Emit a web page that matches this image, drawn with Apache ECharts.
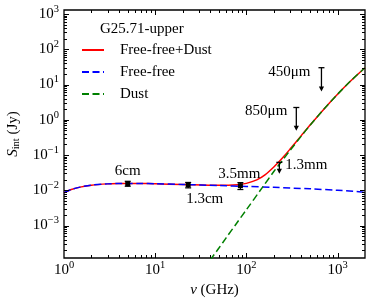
<!DOCTYPE html>
<html><head><meta charset="utf-8">
<script src="https://cdn.jsdelivr.net/npm/echarts@6/dist/echarts.min.js"></script>
<style>html,body{margin:0;padding:0;background:#fff}#c{width:374px;height:306px}</style>
</head><body><div id="c"></div>
<script>
// ---- data ----
const ffFreq = [1, 1.2, 1.5, 2, 3, 4, 5, 7, 10, 20, 50, 100, 200, 500, 1000, 2000];
const ffFlux = [0.0085, 0.0105, 0.0123, 0.0140, 0.0152, 0.0156, 0.0157, 0.0156, 0.0153, 0.0146, 0.0136, 0.0129, 0.0121, 0.0110, 0.0100, 0.0088];
const dustFreq = [40, 50, 60, 80, 100, 150, 200, 250, 300, 400, 500, 700, 1000, 1400, 2000];
const dustFlux = [1.04e-4, 2.3e-4, 4.47e-4, 1.26e-3, 2.8e-3, 0.0121, 0.034, 0.072, 0.133, 0.344, 0.70, 1.93, 5.3, 12.8, 30];
const totFreq = [1, 1.2, 1.5, 2, 3, 4, 5, 7, 10, 20, 50, 80, 100, 130, 160, 200, 250, 300, 400, 500, 700, 1000, 1400, 2000];
const totFlux = [0.0085, 0.0105, 0.0123, 0.0140, 0.0152, 0.0156, 0.0157, 0.0156, 0.0153, 0.0146, 0.0138, 0.0144, 0.0157, 0.0197, 0.0275, 0.046, 0.084, 0.145, 0.355, 0.71, 1.94, 5.3, 12.8, 30];
const obsFreq = [5, 23, 86];
const obsFlux = [0.0155, 0.0142, 0.0135];
const obsErr = [0.0025, 0.0025, 0.003];
const obsName = ['6cm', '1.3cm', '3.5mm'];
const ulFreq = [230, 353, 666];
const ulFlux = [0.062, 2.23, 30];
const ulEnd = [0.0295, 0.49, 6.3];
const ulName = ['1.3mm', '850\u03bcm', '450\u03bcm'];
const seriesNames = ['Free-free+Dust', 'Free-free', 'Dust'];
const legendTitle = 'G25.71-upper';
const xRange = [1, 2000];
const yRange = [1.2e-4, 1.3e3];

// ---- helpers ----
const FONT = '"Liberation Serif", "DejaVu Serif", serif';
function zip(a, b) { return a.map((v, i) => [v, b[i]]); }
function powLabel(v) {
  const e = Math.log10(v), r = Math.round(e);
  if (Math.abs(e - r) > 1e-6) return '';
  return '{b|10}{s|' + (r < 0 ? '\u2212' + (-r) : r) + '}';
}
const richPow = {
  b: { fontSize: 15, lineHeight: 15, verticalAlign: 'bottom', fontFamily: FONT, color: '#000' },
  s: { fontSize: 10.5, lineHeight: 10, padding: [0, 0, 7, 0], verticalAlign: 'bottom', fontFamily: FONT, color: '#000' }
};
function logTicks(lo, hi) {
  const out = [];
  for (let k = Math.floor(Math.log10(lo)); k <= Math.ceil(Math.log10(hi)); k++) {
    for (let m = 1; m <= 9; m++) {
      const v = m * Math.pow(10, k);
      if (v >= lo * 0.999 && v <= hi * 1.001) out.push({ v: v, major: m === 1 });
    }
  }
  return out;
}
const xTicks = logTicks(xRange[0], xRange[1]);
const yTicks = logTicks(yRange[0], yRange[1]);

function renderTicks(params, api) {
  const cs = params.coordSys;
  const x0 = cs.x, x1 = cs.x + cs.width, y0 = cs.y, y1 = cs.y + cs.height;
  const ch = [];
  const add = (a, b, c, d) => ch.push({ type: 'line', shape: { x1: a, y1: b, x2: c, y2: d }, style: { stroke: '#000', lineWidth: 1 } });
  xTicks.forEach(t => {
    const px = Math.round(api.coord([t.v, 1])[0]) + 0.5;
    const L = t.major ? 5 : 3;
    if (px <= x0 + 1 || px >= x1 - 1) return;
    add(px, y1, px, y1 - L); add(px, y0, px, y0 + L);
  });
  yTicks.forEach(t => {
    const py = Math.round(api.coord([1, t.v])[1]) + 0.5;
    const L = t.major ? 5 : 3;
    if (py <= y0 + 1 || py >= y1 - 1) return;
    add(x0, py, x0 + L, py); add(x1, py, x1 - L, py);
  });
  return { type: 'group', children: ch };
}

const obsLabelStyle = [
  { dx: 0, dy: -13, align: 'center' },
  { dx: -2, dy: 14, align: 'left' },
  { dx: -1, dy: -12, align: 'center' }
];
function renderObs(params, api) {
  const i = api.value(2);
  const f = obsFreq[i];
  const c = api.coord([f, obsFlux[i]]);
  const t = api.coord([f, obsFlux[i] + obsErr[i]]);
  const b = api.coord([f, obsFlux[i] - obsErr[i]]);
  const st = { stroke: '#000', lineWidth: 1.2 };
  const ls = obsLabelStyle[i];
  return { type: 'group', children: [
    { type: 'line', shape: { x1: c[0], y1: t[1], x2: c[0], y2: b[1] }, style: st },
    { type: 'line', shape: { x1: c[0] - 3, y1: t[1], x2: c[0] + 3, y2: t[1] }, style: st },
    { type: 'line', shape: { x1: c[0] - 3, y1: b[1], x2: c[0] + 3, y2: b[1] }, style: st },
    { type: 'rect', shape: { x: c[0] - 2.5, y: c[1] - 2.5, width: 5, height: 5 }, style: { fill: '#000' } },
    { type: 'text', x: c[0] + ls.dx, y: c[1] + ls.dy, style: { text: obsName[i], fill: '#000', font: '15px ' + FONT, textAlign: ls.align, textVerticalAlign: 'middle' } }
  ] };
}
const ulLabelStyle = [
  { dx: 6, dy: 3, align: 'left' },
  { dx: -9, dy: 3.5, align: 'right' },
  { dx: -11, dy: 4, align: 'right' }
];
function renderUL(params, api) {
  const i = api.value(2);
  const t = api.coord([ulFreq[i], ulFlux[i]]);
  const b = api.coord([ulFreq[i], ulEnd[i]]);
  const st = { stroke: '#000', lineWidth: 1.3 };
  const ls = ulLabelStyle[i];
  return { type: 'group', children: [
    { type: 'line', shape: { x1: t[0], y1: t[1], x2: t[0], y2: b[1] - 4 }, style: st },
    { type: 'line', shape: { x1: t[0] - 3, y1: t[1], x2: t[0] + 3, y2: t[1] }, style: st },
    { type: 'polygon', shape: { points: [[t[0] - 2.6, b[1] - 5], [t[0] + 2.6, b[1] - 5], [t[0], b[1]]] }, style: { fill: '#000' } },
    { type: 'text', x: t[0] + ls.dx, y: t[1] + ls.dy, style: { text: ulName[i], fill: '#000', font: '15px ' + FONT, textAlign: ls.align, textVerticalAlign: 'middle' } }
  ] };
}

const chart = echarts.init(document.getElementById('c'), null, { renderer: 'canvas' });
chart.setOption({
  animation: false,
  backgroundColor: '#fff',
  textStyle: { fontFamily: FONT },
  title: {
    text: legendTitle, left: 100, top: 21, padding: 0,
    textStyle: { fontFamily: FONT, fontSize: 15, fontWeight: 'normal', color: '#000', lineHeight: 16 }
  },
  legend: {
    orient: 'vertical', left: 81, top: 42, padding: 0,
    itemWidth: 22, itemHeight: 16, itemGap: 6,
    data: seriesNames,
    itemStyle: { opacity: 0, borderWidth: 0 },
    textStyle: { fontFamily: FONT, fontSize: 15, color: '#000', lineHeight: 16, padding: [0, 0, 0, 11] }
  },
  grid: { left: 64, right: 9, top: 10, bottom: 48, show: true, borderColor: '#000', borderWidth: 1.3, containLabel: false, outerBoundsMode: 'none' },
  xAxis: {
    type: 'log', logBase: 10, min: xRange[0], max: xRange[1],
    axisLine: { show: false }, axisTick: { show: false }, splitLine: { show: false },
    axisLabel: { formatter: powLabel, rich: richPow, margin: 5, showMinLabel: true, showMaxLabel: true },
    name: '{i|\u03bd} (GHz)', nameLocation: 'middle', nameGap: 23,
    nameTextStyle: { fontFamily: FONT, fontSize: 15, color: '#000', rich: { i: { fontFamily: FONT, fontSize: 15, fontStyle: 'italic', color: '#000' } } }
  },
  yAxis: {
    type: 'log', logBase: 10, min: yRange[0], max: yRange[1],
    axisLine: { show: false }, axisTick: { show: false }, splitLine: { show: false },
    axisLabel: { formatter: powLabel, rich: richPow, margin: 5 },
    name: '{i|S}{sub|int} (Jy)', nameLocation: 'middle', nameGap: 42,
    nameTextStyle: { fontFamily: FONT, fontSize: 15, color: '#000', rich: {
      i: { fontFamily: FONT, fontSize: 15, fontStyle: 'italic', color: '#000' },
      sub: { fontFamily: FONT, fontSize: 10.5, color: '#000', verticalAlign: 'bottom', padding: [6, 0, 0, 0] }
    } }
  },
  series: [
    { name: seriesNames[0], type: 'line', data: zip(totFreq, totFlux), showSymbol: false, symbol: 'none', smooth: 0.3,
      lineStyle: { color: '#ff0000', width: 1.5 }, itemStyle: { color: '#ff0000' }, z: 2 },
    { name: seriesNames[1], type: 'line', data: zip(ffFreq, ffFlux), showSymbol: false, symbol: 'none', smooth: 0.3,
      lineStyle: { color: '#0000ff', width: 1.5, type: [7, 3.5] }, itemStyle: { color: '#0000ff' }, z: 3 },
    { name: seriesNames[2], type: 'line', data: zip(dustFreq, dustFlux), showSymbol: false, symbol: 'none', smooth: 0.3,
      lineStyle: { color: '#008000', width: 1.5, type: [7, 3.5] }, itemStyle: { color: '#008000' }, z: 4 },
    { type: 'custom', renderItem: renderObs, data: obsFreq.map((f, i) => [f, obsFlux[i], i]), z: 6, clip: false, silent: true },
    { type: 'custom', renderItem: renderUL, data: ulFreq.map((f, i) => [f, ulFlux[i], i]), z: 6, clip: false, silent: true },
    { type: 'custom', renderItem: renderTicks, data: [[1, 1]], z: 7, clip: false, silent: true }
  ]
});
</script></body></html>
